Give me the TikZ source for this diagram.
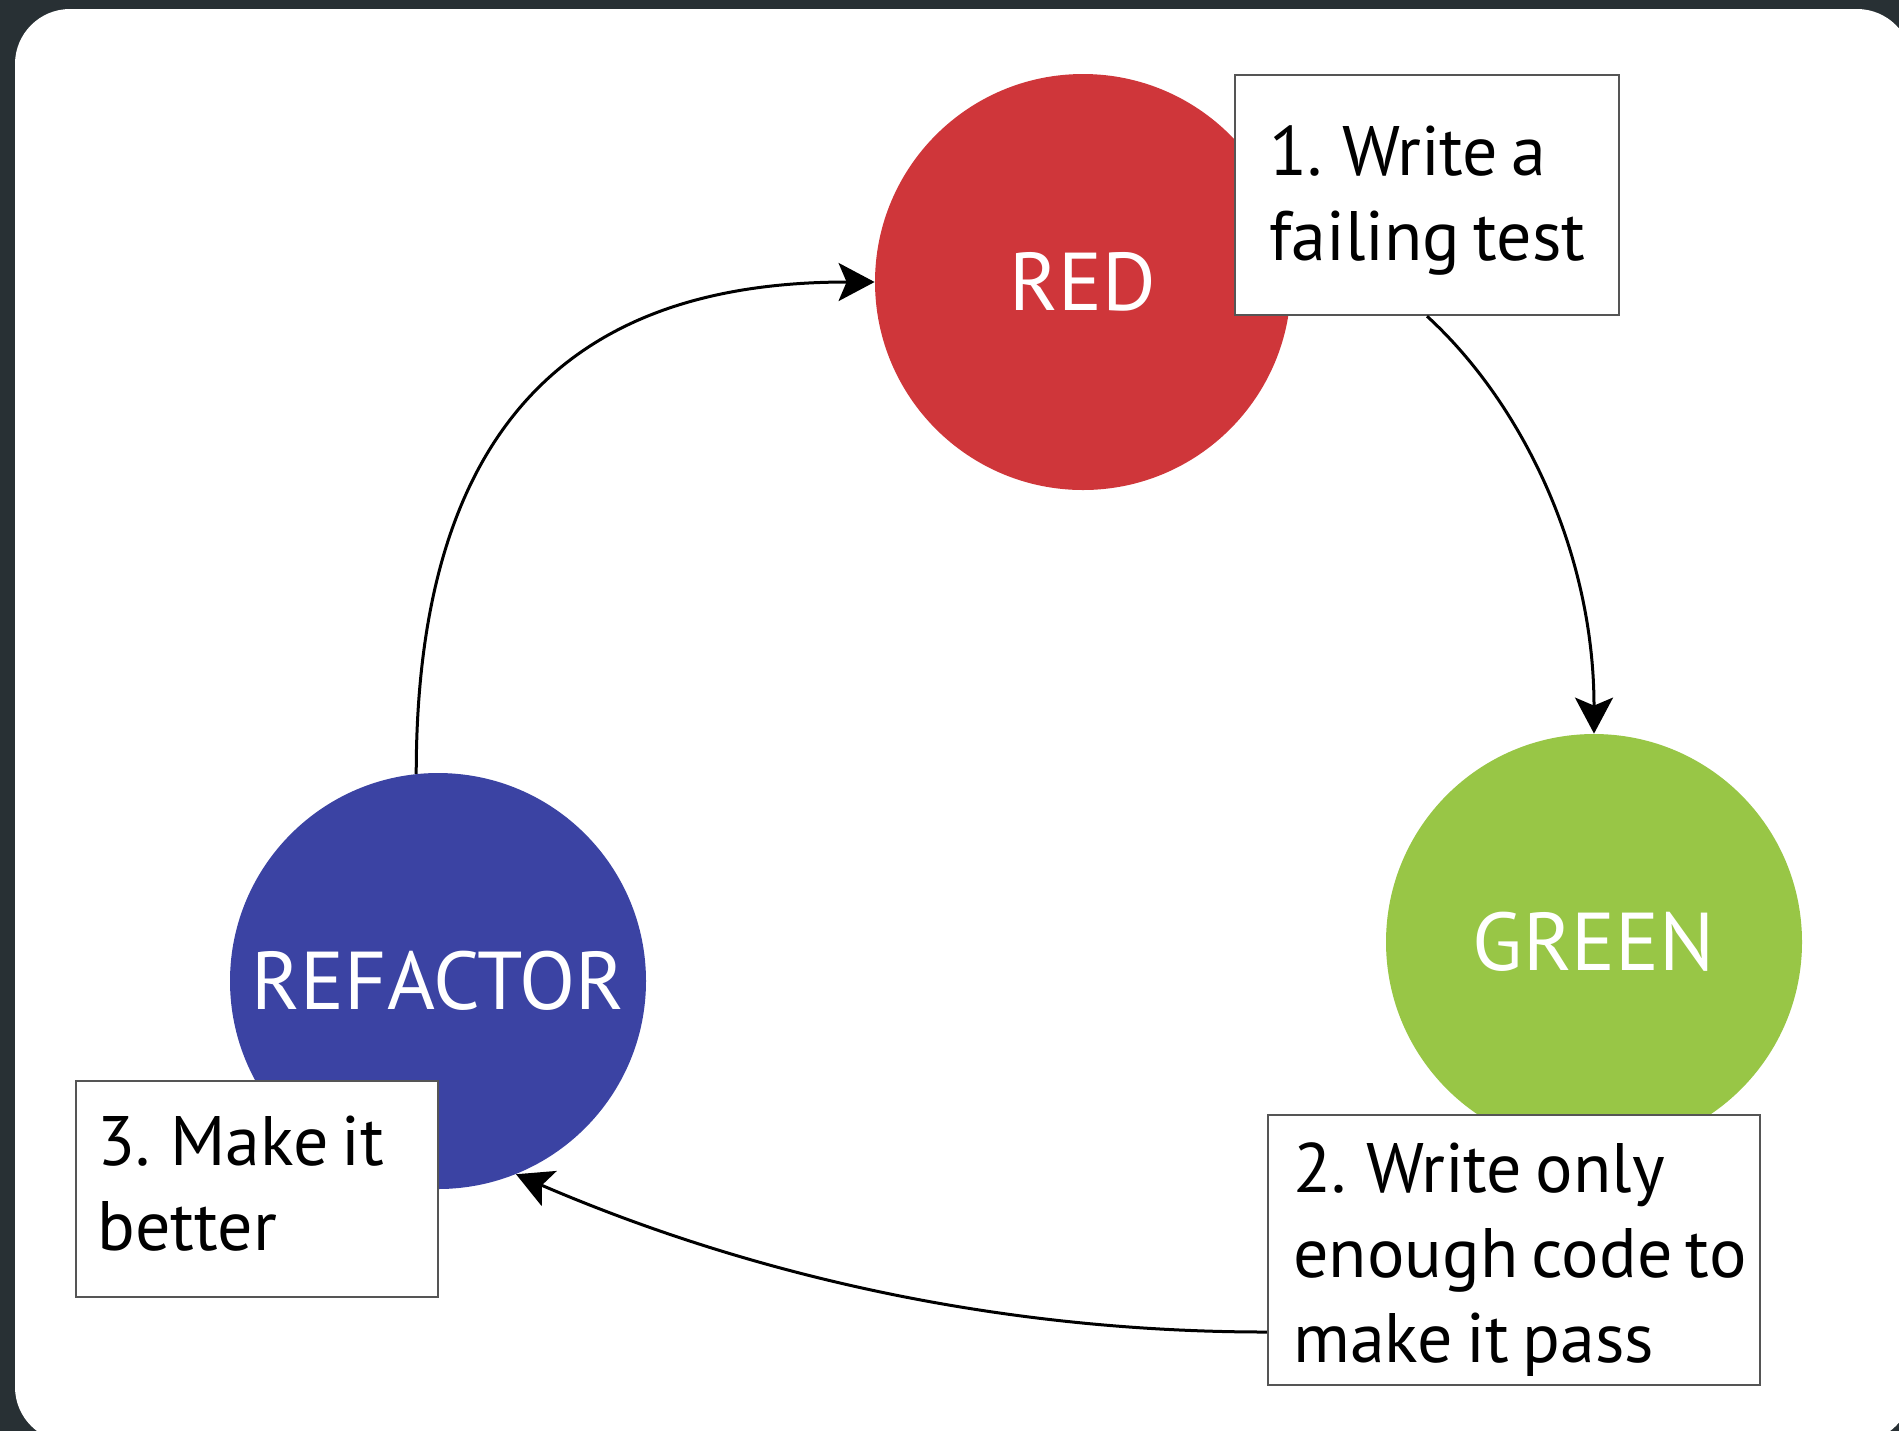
\documentclass[tikz,border=0pt]{standalone}
\usepackage{fontspec}
\setmainfont{PT Sans}[WordSpace=0.72]
\usetikzlibrary{arrows.meta}
\definecolor{bgdark}{HTML}{283034}
\definecolor{tddred}{HTML}{CF363A}
\definecolor{tddgreen}{HTML}{98C646}
\definecolor{tddblue}{HTML}{3B43A3}
\definecolor{boxline}{HTML}{555555}
\tikzset{
 phase/.style={circle, minimum size=208pt, inner sep=0pt, text=white, font=\fontsize{41}{48}\selectfont},
 notebox/.style={draw=boxline, line width=1.2pt, fill=white, inner sep=0pt},
 notetext/.style={anchor=west, inner sep=0pt, align=left, font=\fontsize{35}{42.5}\selectfont},
 flow/.style={line width=1.5pt, -{Stealth[length=18pt,width=19pt,inset=4pt]}},
}
\begin{document}
\begin{tikzpicture}[x=0.5pt,y=-0.5pt]
\fill[bgdark] (0,0) rectangle (1899,1431);
\useasboundingbox (0,0) rectangle (1899,1431);
\begin{scope}
\clip (0,0) rectangle (1899,1431);
\fill[white, rounded corners=27.5pt] (15,9) rectangle (1912,1442);
\end{scope}
\node[phase, fill=tddred] (red) at (1083,282) {RED};
\node[phase, fill=tddgreen] (green) at (1594,942) {GREEN};
\node[phase, fill=tddblue] (refactor) at (438,981) {REFACTOR};
\node[notebox, minimum width=192pt, minimum height=120pt] (box1) at (1427,195) {};
\node[notetext] (t1) at (1269,200) {1. Write a\\failing test};
\node[notebox, minimum width=246pt, minimum height=135pt] (box2) at (1514,1250) {};
\node[notetext] (t2) at (1293,1260) {2. Write only\\enough code to\\make it pass};
\node[notebox, minimum width=181pt, minimum height=108pt] (box3) at (257,1189) {};
\node[notetext] (t3) at (97,1184) {3. Make it\\better};
\draw[flow] (refactor.96) .. controls +(0,-390) and +(-260,0) .. (red.west);
\draw[flow] (box1.south) .. controls +(93,85) and +(0,-184) .. (green.north);
\draw[flow] ([yshift=-41pt]box2.west) .. controls +(-268,0) and +(235,101) .. (refactor.-68);
\end{tikzpicture}
\end{document}
